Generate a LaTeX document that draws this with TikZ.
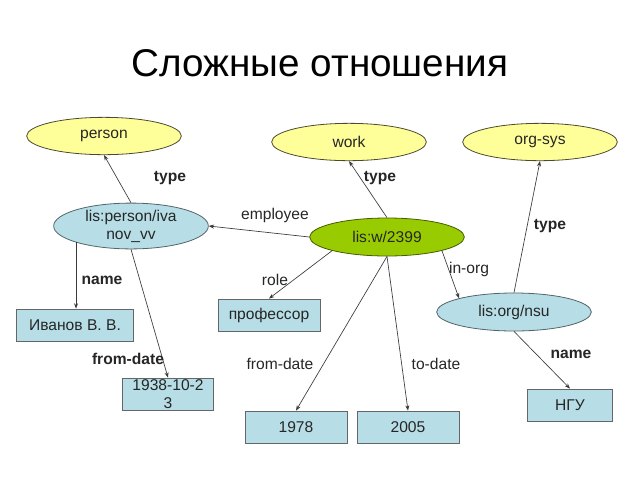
\documentclass[tikz,border=0pt]{standalone}
\usepackage{fontspec}
\setmainfont{Liberation Sans}
\usetikzlibrary{shapes.geometric,arrows.meta}

\definecolor{clsyellow}{HTML}{FFFF99}
\definecolor{clsblue}{HTML}{B7DEE6}
\definecolor{clsgreen}{HTML}{99CC00}
\definecolor{clsline}{HTML}{3A3A3A}

\tikzset{
    lbl/.style={font=\fontsize{11.7}{13.5}\selectfont, text=black!85},
    blbl/.style={lbl, font=\fontsize{11.7}{13.5}\selectfont\bfseries},
    classnode/.style={ellipse, draw=black!60!olive, fill=clsyellow, line width=0.6pt,
        minimum width=116pt, minimum height=28pt, inner sep=0pt, lbl},
    resnode/.style={ellipse, draw=black!55!clsblue, fill=clsblue, line width=0.6pt,
        minimum width=116pt, minimum height=28.5pt, inner sep=0pt, lbl, align=center},
    valbox/.style={rectangle, draw=black!60, fill=clsblue, line width=0.6pt,
        minimum height=24pt, inner sep=0pt, lbl, align=center},
    arr/.style={draw=clsline, line width=0.5pt, -{Stealth[length=4pt,width=3pt]}}
}

\begin{document}
\begin{tikzpicture}[x=0.75pt, y=-0.75pt]
    \useasboundingbox (0,0) rectangle (640,480);

    % Title
    \node (title) at (320,63) {\fontsize{29}{34}\selectfont Сложные отношения};

    % Classes
    \node [classnode] (person) at (104,136) {person};
    \node [classnode] (work) at (349,142) {work};
    \node [classnode] (orgsys) at (540,142) {org-sys};

    % Resources
    \node [resnode] (ivanov) at (131,226) {lis:person/iva\\nov\_vv};
    \node [resnode, fill=clsgreen, draw=black!55!clsgreen] (w2399) at (387,237) {lis:w/2399};
    \node [resnode] (nsu) at (514,312) {lis:org/nsu};

    % Literal values
    \node [valbox, minimum width=88pt] (fio) at (75,325) {Иванов В. В.};
    \node [valbox, minimum width=76.5pt] (prof) at (269,315) {профессор};
    \node [valbox, minimum width=68pt] (birth) at (168,394) {1938-10-2\\3};
    \node [valbox, minimum width=76.5pt] (from) at (296,427) {1978};
    \node [valbox, minimum width=76.5pt] (to) at (408,427) {2005};
    \node [valbox, minimum width=64pt] (ngu) at (570,405) {НГУ};

    % Connectors
    \draw [arr] (ivanov.north) -- (person.south);
    \draw [arr] (w2399.north) -- (work.south);
    \draw [arr] (nsu.north) -- (orgsys.south);
    \draw [arr] (w2399.west) -- (ivanov.east);
    \draw [arr] (ivanov.south west) -- (ivanov.south west |- fio.north);
    \draw [arr] (ivanov.south) -- (birth.north);
    \draw [arr] (w2399.south west) -- (prof.north);
    \draw [arr] (w2399.south) -- (from.north);
    \draw [arr] (w2399.south) -- (to.north);
    \draw [arr] (w2399.south east) -- (nsu.north west);
    \draw [arr] (nsu.south) -- (ngu.north);

    % Edge labels
    \node [blbl] (l-type1) at (170,178) {type};
    \node [blbl] (l-type2) at (380,178) {type};
    \node [blbl] (l-type3) at (550,226) {type};
    \node [lbl] (l-emp) at (275,215) {employee};
    \node [blbl] (l-name1) at (102,280) {name};
    \node [lbl] (l-role) at (275,280) {role};
    \node [lbl] (l-inorg) at (469,269) {in-org};
    \node [blbl] (l-birth) at (128,359) {from-date};
    \node [lbl] (l-from) at (280,364) {from-date};
    \node [lbl] (l-to) at (436,364) {to-date};
    \node [blbl] (l-name2) at (571,354) {name};
\end{tikzpicture}
\end{document}
